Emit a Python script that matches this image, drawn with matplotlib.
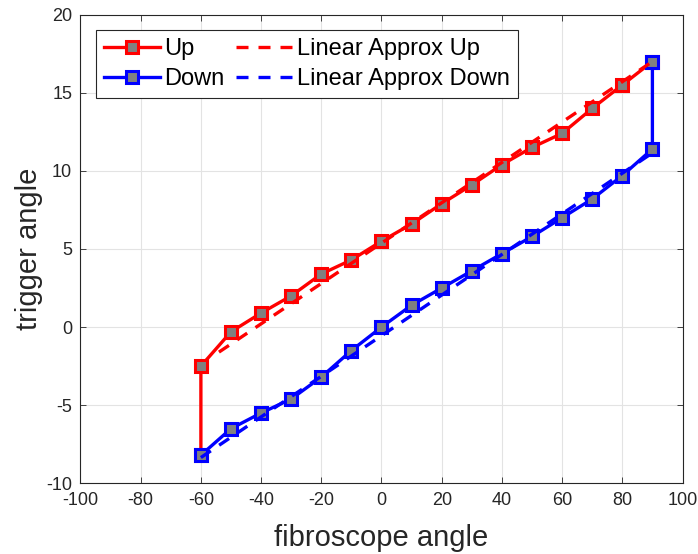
import matplotlib
matplotlib.use('Agg')
import matplotlib.pyplot as plt
import matplotlib.ticker as ticker

# fibroscope angle (deg)
angle_up = [-60, -60, -50, -40, -30, -20, -10, 0, 10, 20, 30, 40, 50, 60, 70, 80, 90]
trigger_up = [-8.2, -2.5, -0.3, 0.9, 2.0, 3.4, 4.3, 5.5, 6.6, 7.9, 9.1, 10.4, 11.5, 12.4, 14.0, 15.5, 17.0]

angle_down = [90, 90, 80, 70, 60, 50, 40, 30, 20, 10, 0, -10, -20, -30, -40, -50, -60]
trigger_down = [17.0, 11.4, 9.7, 8.2, 7.0, 5.8, 4.7, 3.6, 2.5, 1.4, 0.0, -1.5, -3.2, -4.6, -5.5, -6.5, -8.2]

# linear approximations (end points)
lin_up_x = [-54, 90]
lin_up_y = [-1.6, 17.0]
lin_down_x = [-60, 90]
lin_down_y = [-8.35, 11.15]

xticks = list(range(-100, 101, 20))
yticks = list(range(-10, 21, 5))

plt.rcParams.update({
    'font.family': ['Liberation Sans', 'DejaVu Sans'],
    'font.size': 13,
    'axes.unicode_minus': False,
    'xtick.direction': 'in',
    'ytick.direction': 'in',
    'xtick.top': True,
    'ytick.right': True,
    'xtick.major.size': 4,
    'ytick.major.size': 4,
    'xtick.major.width': 0.6,
    'ytick.major.width': 0.6,
    'xtick.color': '#262626',
    'ytick.color': '#262626',
    'xtick.labelsize': 13,
    'ytick.labelsize': 13,
    'axes.linewidth': 0.8,
    'axes.edgecolor': '#262626',
})

fig = plt.figure(figsize=(6.98, 5.54), dpi=100)
ax = fig.add_axes([0.1153, 0.1276, 0.8625, 0.8459])

mk = dict(marker='s', markersize=8.5, markerfacecolor='#808080', markeredgewidth=2.2)
dash = (0, (3.6, 3.0))

l1, = ax.plot(angle_up, trigger_up, color='red', lw=2.4, markeredgecolor='red', label='Up', **mk)
l2, = ax.plot(angle_down, trigger_down, color='blue', lw=2.4, markeredgecolor='blue', label='Down', **mk)
l3, = ax.plot(lin_up_x, lin_up_y, color='red', lw=2.4, linestyle=dash, label='Linear Approx Up')
l4, = ax.plot(lin_down_x, lin_down_y, color='blue', lw=2.4, linestyle=dash, label='Linear Approx Down')

ax.set_xlim(-100, 100)
ax.set_ylim(-10, 20)
ax.xaxis.set_major_locator(ticker.FixedLocator(xticks))
ax.yaxis.set_major_locator(ticker.FixedLocator(yticks))
ax.grid(True, color='#e3e3e3', linewidth=0.8)
ax.set_axisbelow(True)
ax.tick_params(axis='x', pad=6)
ax.tick_params(axis='y', pad=6)

ax.set_xlabel('fibroscope angle', fontsize=21, color='#262626', labelpad=11)
ax.set_ylabel('trigger angle', fontsize=21, color='#262626', labelpad=2)

leg = ax.legend(handles=[l1, l2, l3, l4], ncol=2, loc='upper left',
                bbox_to_anchor=(0.0257, 0.967), borderaxespad=0,
                fancybox=False, framealpha=1, edgecolor='#262626',
                handlelength=2.35, handletextpad=0.2, columnspacing=0.5,
                labelspacing=0.32, borderpad=0.35, fontsize=17)
leg.get_frame().set_linewidth(0.8)

fig.savefig('out.png', dpi=100)
